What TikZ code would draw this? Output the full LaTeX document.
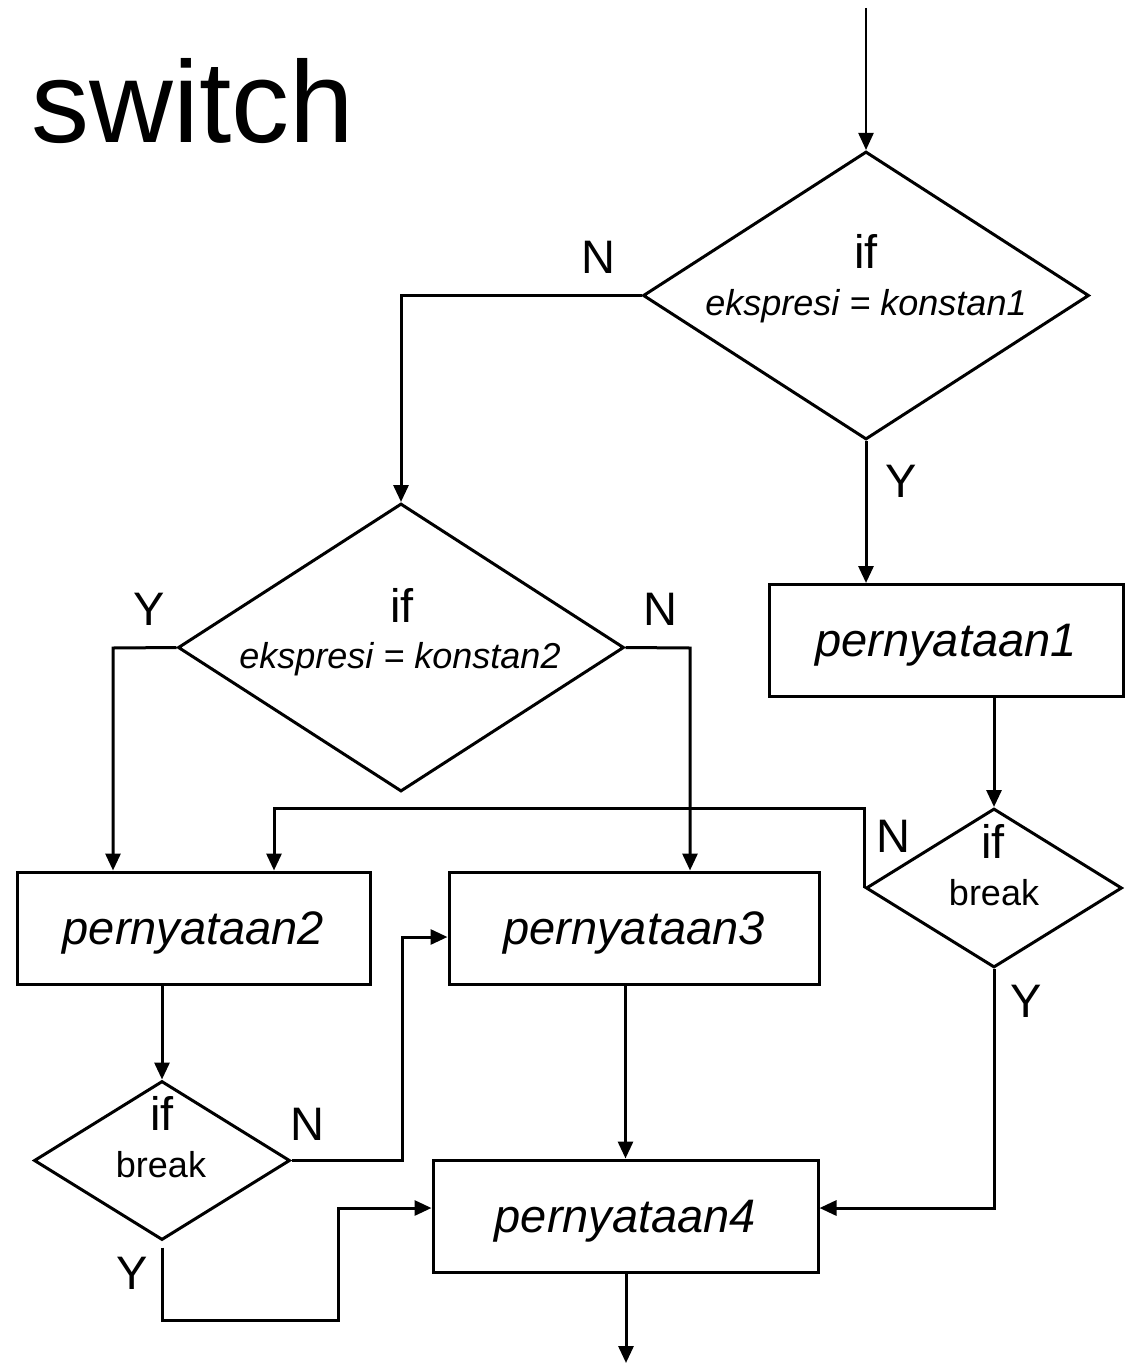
\documentclass[tikz,border=0pt]{standalone}
\usepackage{fontspec}
\setmainfont{Liberation Sans}
\usetikzlibrary{shapes.geometric,arrows.meta}
\begin{document}
\begin{tikzpicture}[x=1pt,y=-1pt,line width=3pt,
  flow/.style={-{Triangle[length=17pt,width=15pt]}},
  bigdec/.style={diamond,draw,inner sep=0pt,minimum width=446pt,minimum height=288pt},
  smalldec/.style={diamond,draw,inner sep=0pt,minimum width=256pt,minimum height=159pt},
  stmt/.style={rectangle,draw,inner sep=0pt,minimum height=112pt,text depth=0pt,
    font=\fontsize{47pt}{54pt}\selectfont\itshape},
  lbl/.style={anchor=base,inner sep=0pt,font=\fontsize{47pt}{54pt}\selectfont},
  cond/.style={anchor=base,inner sep=0pt,font=\fontsize{36pt}{42pt}\selectfont\itshape},
  brk/.style={anchor=base,inner sep=0pt,font=\fontsize{36pt}{42pt}\selectfont}]
\useasboundingbox (0,0) rectangle (1126,1364);

% title
\node[anchor=base west,inner sep=0pt,font=\fontsize{116pt}{130pt}\selectfont] (title) at (30,143) {switch};

% decisions
\node[bigdec] (d1) at (866,295.5) {};
\node[bigdec] (d2) at (401,647.5) {};
\node[smalldec] (d3) at (994,888) {};
\node[smalldec] (d4) at (162,1160.5) {};

\node[lbl] (d1if) at (866,268) {if};
\node[cond] (d1c) at (866,315) {ekspresi = konstan1};
\node[lbl] (d2if) at (402,622) {if};
\node[cond] (d2c) at (400,668) {ekspresi = konstan2};
\node[lbl] (d3if) at (993,858) {if};
\node[brk] (d3c) at (994,905) {break};
\node[lbl] (d4if) at (162,1130) {if};
\node[brk] (d4c) at (161,1177) {break};

% statements
\node[stmt,minimum width=354pt] (b1) at (946,640.5) {pernyataan1};
\node[stmt,minimum width=353pt] (b2) at (193.5,928) {pernyataan2};
\node[stmt,minimum width=370pt] (b3) at (634,928) {pernyataan3};
\node[stmt,minimum width=385pt] (b4) at (625.5,1216) {pernyataan4};

% branch labels
\node[lbl] (n1) at (598,273) {N};
\node[lbl] (y1) at (901,497) {Y};
\node[lbl] (y2) at (149,625) {Y};
\node[lbl] (n2) at (660,625) {N};
\node[lbl] (n3) at (893,852) {N};
\node[lbl] (y3) at (1026,1017) {Y};
\node[lbl] (n4) at (307,1140) {N};
\node[lbl] (y4) at (132,1289) {Y};

% helper points
\coordinate (start) at (866,8);
\coordinate (finish) at (626,1363);
\coordinate (k1) at (274,808);
\coordinate (k2) at (113,648);
\coordinate (k3) at (690,648);
\coordinate (k4) at (402,1160.5);
\coordinate (k5) at (338,1320);

% connectors
\draw[flow,line width=2.2pt] (start) -- (d1.north);
\draw[flow] (d1.west) -| (d2.north);
\draw[flow] (d1.south) -- (d1.south |- b1.north);
\draw[flow] (b1.south -| d3.north) -- (d3.north);
\draw[flow] (d3.west) |- (k1) -- (k1 |- b2.north);
\draw[flow] (d3.south) |- ([yshift=8pt]b4.east);
\draw[flow] (d2.west) -- (k2) -- (k2 |- b2.north);
\draw[flow] (d2.east) -- (k3) -- (k3 |- b3.north);
\draw[flow] (b2.south -| d4.north) -- (d4.north);
\draw[flow] (d4.east) -- (k4) |- ([yshift=-9pt]b3.west);
\draw[flow] ([yshift=-6pt]d4.south) |- (k5) |- ([yshift=8pt]b4.west);
\draw[flow] (b3.south -| b4.north) -- (b4.north);
\draw[flow] (b4.south -| finish) -- (finish);
\end{tikzpicture}
\end{document}
